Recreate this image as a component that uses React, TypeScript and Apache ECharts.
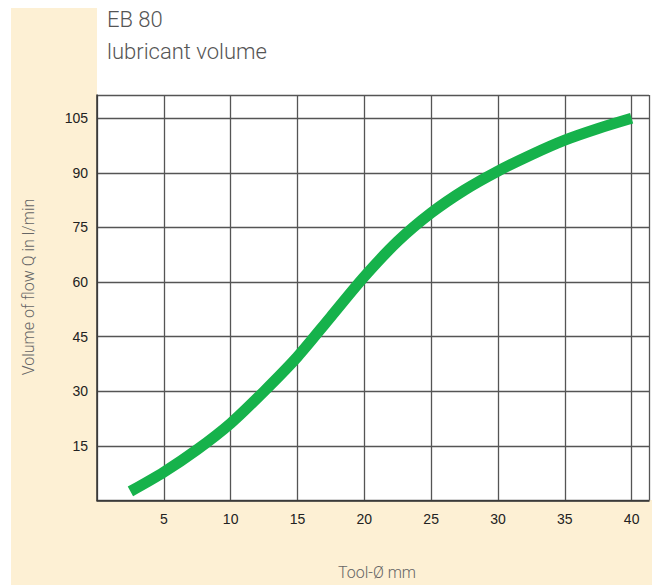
import React, { useEffect, useRef } from "react";
import * as echarts from "echarts";

const toolDiameter = [2.5, 5, 7.5, 10, 12.5, 15, 17.5, 20, 22.5, 25, 27.5, 30, 32.5, 35, 37.5, 40];
const flowVolume = [2.5, 7.8, 14, 21.2, 30, 39.5, 50.5, 61.5, 71.2, 79, 85.3, 90.5, 95, 99, 102.2, 105];
const xTicks = [5, 10, 15, 20, 25, 30, 35, 40];
const yTicks = [15, 30, 45, 60, 75, 90, 105];

const titleLines = ["EB 80", "lubricant volume"];
const yAxisTitle = "Volume of flow Q in l/min";
const xAxisTitle = "Tool-Ø mm";

export default function App() {
  const ref = useRef<HTMLDivElement>(null);
  useEffect(() => {
    if (!ref.current) return;
    const chart = echarts.init(ref.current, undefined, { renderer: "svg" });
    const font = "'Liberation Sans', Arial, sans-serif";
    chart.setOption({
      animation: false,
      backgroundColor: "#ffffff",
      graphic: [
        { type: "rect", z: -10, shape: { x: 11, y: 8, width: 86, height: 577 }, style: { fill: "#fdf0d4" } },
        { type: "rect", z: -10, shape: { x: 11, y: 500, width: 641, height: 85 }, style: { fill: "#fdf0d4" } },
        { type: "text", x: 107, y: 8, style: { text: titleLines[0], font: `300 22px Roboto, ${font}`, fill: "#555" } },
        { type: "text", x: 107, y: 40, style: { text: titleLines[1], font: `300 22px Roboto, ${font}`, fill: "#555" } },
        {
          type: "text", x: 28, y: 287, rotation: Math.PI / 2,
          style: { text: yAxisTitle, font: `300 16px Roboto, ${font}`, fill: "#666", align: "center", verticalAlign: "middle" },
        },
        {
          type: "text", x: 377, y: 572,
          style: { text: xAxisTitle, font: `300 16px Roboto, ${font}`, fill: "#666", align: "center", verticalAlign: "middle" },
        },
      ],
      grid: { left: 97, top: 95, right: 2, bottom: 84.5, backgroundColor: "#fff", show: true, borderWidth: 0 },
      xAxis: {
        type: "value",
        min: 0,
        max: 41.3,
        interval: 5,
        axisLine: { show: true, lineStyle: { color: "#333", width: 1.5 } },
        axisTick: { show: false },
        splitLine: { show: true, lineStyle: { color: "#555", width: 1.3 } },
        axisLabel: {
          margin: 11,
          color: "#222",
          fontSize: 14,
          fontFamily: font,
          formatter: (v: number) => (xTicks.includes(v) ? String(v) : ""),
        },
      },
      yAxis: {
        type: "value",
        min: 0,
        max: 111.4,
        interval: 15,
        axisLine: { show: true, lineStyle: { color: "#333", width: 1.5 } },
        axisTick: { show: false },
        splitLine: { show: true, lineStyle: { color: "#555", width: 1.3 } },
        axisLabel: {
          margin: 9,
          color: "#222",
          fontSize: 14,
          fontFamily: font,
          formatter: (v: number) => (yTicks.includes(v) ? String(v) : ""),
        },
      },
      series: [
        {
          type: "line",
          data: toolDiameter.map((x, i) => [x, flowVolume[i]]),
          smooth: 0.3,
          showSymbol: false,
          lineStyle: { color: "#16b24b", width: 11, cap: "butt" },
        },
      ],
    });
    return () => chart.dispose();
  }, []);
  return <div ref={ref} style={{ position: "fixed", left: 0, top: 0, width: 652, height: 585 }} />;
}
